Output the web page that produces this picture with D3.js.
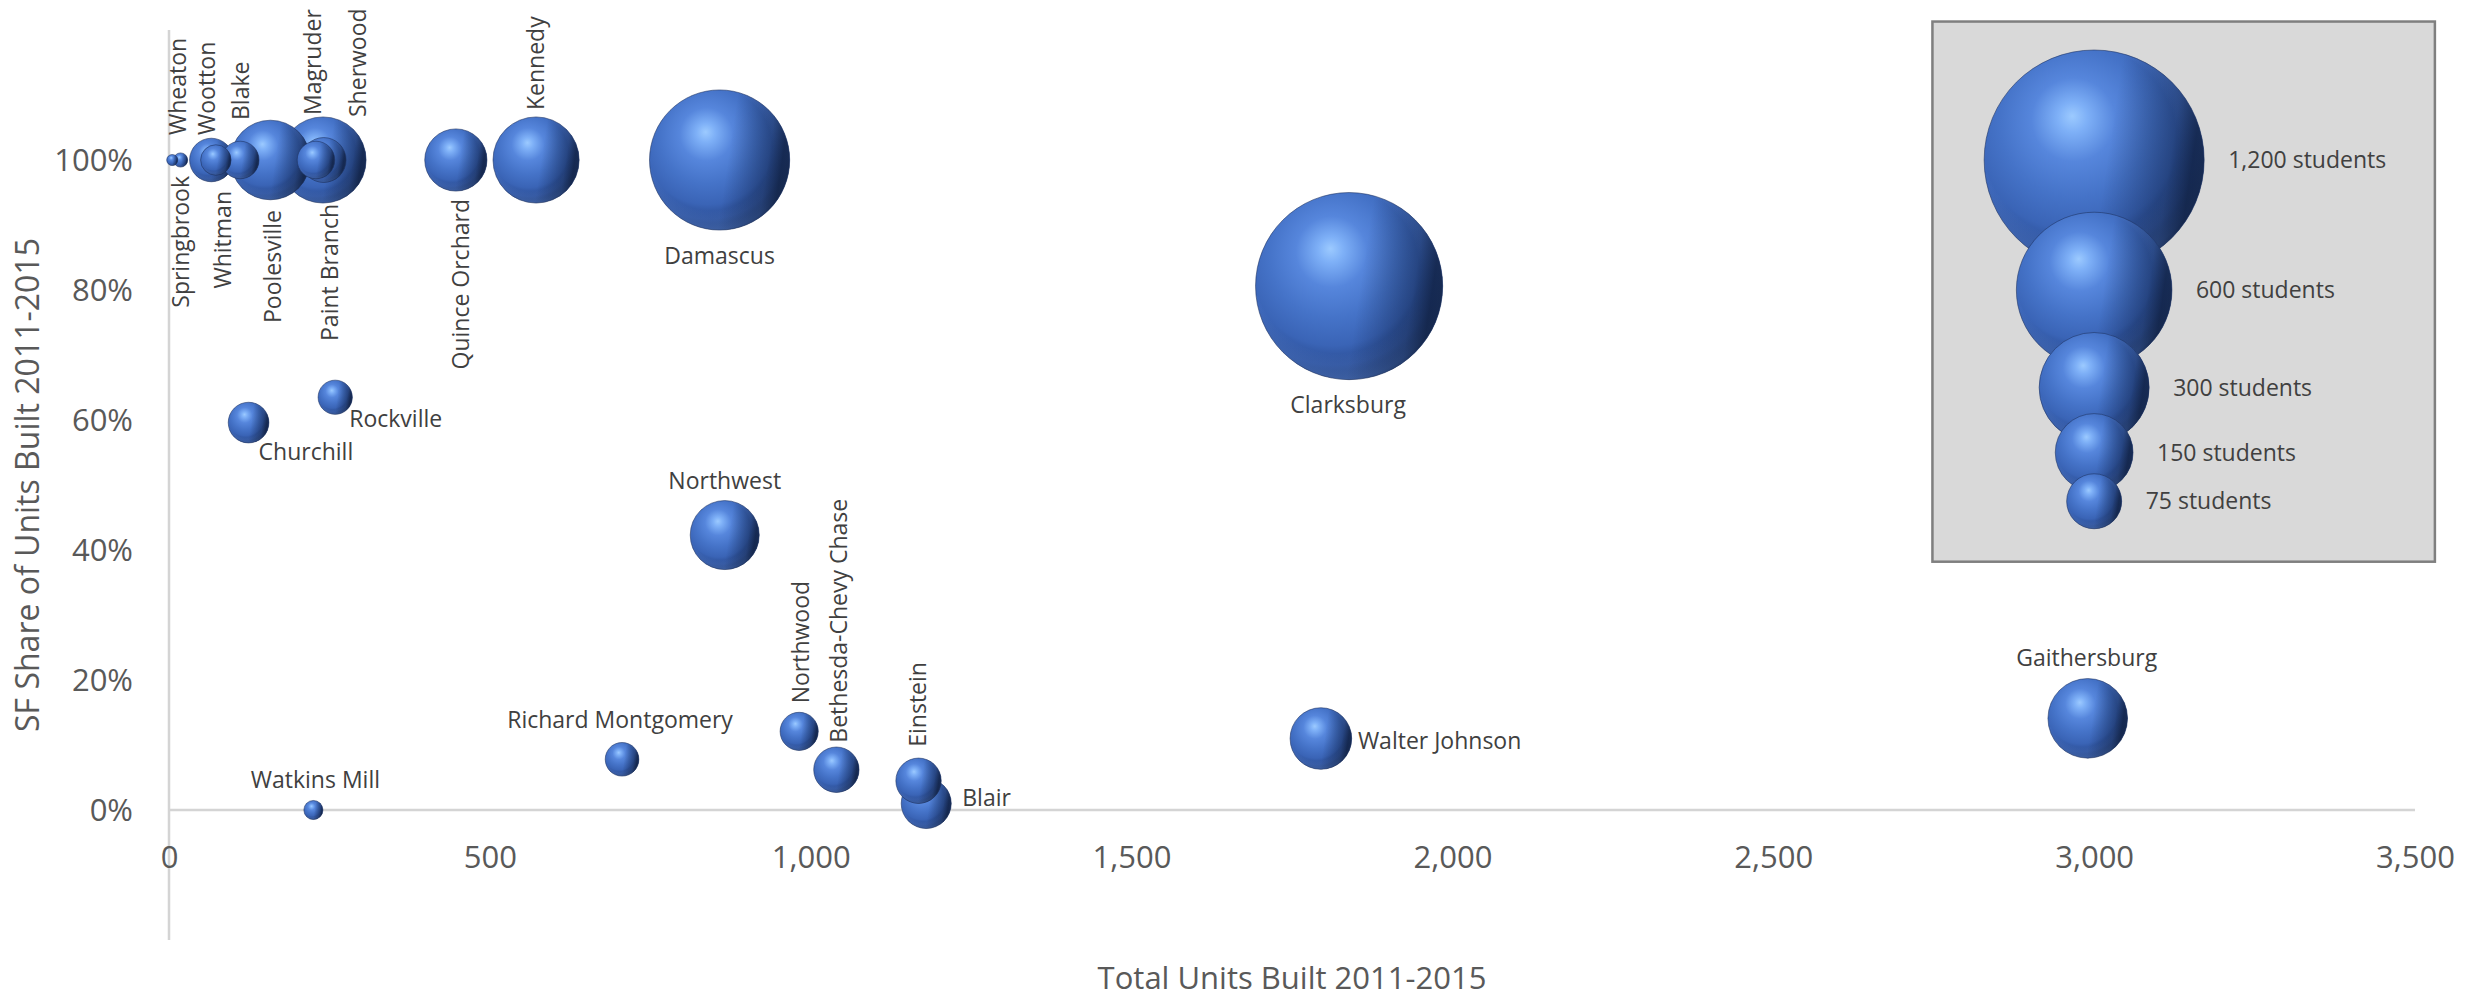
<!DOCTYPE html>
<html>
<head>
<meta charset="utf-8">
<script src="https://cdn.jsdelivr.net/npm/d3@7/dist/d3.min.js"></script>
<style>
  html, body { margin: 0; padding: 0; background: #ffffff; }
  svg { display: block; font-family: "Open Sans", "Noto Sans", sans-serif; }
</style>
</head>
<body>
<svg id="chart" width="2483" height="999"></svg>
<script>
// ---------------- DATA ----------------
const schools = ["Springbrook","Wheaton","Wootton","Whitman","Blake","Poolesville","Magruder","Paint Branch","Sherwood","Quince Orchard","Kennedy","Damascus","Clarksburg","Churchill","Rockville","Northwest","Richard Montgomery","Northwood","Bethesda-Chevy Chase","Einstein","Blair","Walter Johnson","Gaithersburg","Watkins Mill"];
const totalUnits = [5, 18, 66, 73, 111, 158, 229, 241, 240, 447, 572, 858, 1839, 124, 259, 866, 706, 982, 1040, 1168, 1180, 1795, 2990, 225];
const sfShare    = [1.00, 1.00, 1.00, 1.00, 1.00, 1.00, 1.00, 1.00, 1.00, 1.00, 1.00, 1.00, 0.806, 0.596, 0.635, 0.423, 0.078, 0.121, 0.062, 0.045, 0.010, 0.110, 0.141, 0.000];
const students   = [3, 5, 47, 23, 35, 157, 35, 50, 184, 96, 184, 487, 868, 41, 29, 118, 28, 36, 51, 51, 62, 94, 157, 9];

const legendStudents = [1200, 600, 300, 150, 75];
const legendUnits    = [3000, 3000, 3000, 3000, 3000];
const legendShare    = [1.00, 0.80, 0.65, 0.55, 0.475];
const legendLabels   = ["1,200 students", "600 students", "300 students", "150 students", "75 students"];

const xTickValues = [0, 500, 1000, 1500, 2000, 2500, 3000, 3500];
const yTickValues = [0, 0.2, 0.4, 0.6, 0.8, 1.0];

const xTitle = "Total Units Built 2011-2015";
const yTitle = "SF Share of Units Built 2011-2015";

// label placement (style): kind, pixel offset from bubble centre
const labelPlacement = [
  ["Springbrook","down",8,16],
  ["Wheaton","up",-4,-25],
  ["Wootton","up",-5,-25],
  ["Whitman","down",6,31],
  ["Blake","up",0,-40],
  ["Poolesville","down",2,50],
  ["Magruder","up",-4,-45],
  ["Paint Branch","down",5,44],
  ["Sherwood","up",34,-43],
  ["Quince Orchard","down",4,39],
  ["Kennedy","up",-1,-50],
  ["Damascus","mid",0,104],
  ["Clarksburg","mid",-1,127],
  ["Churchill","start",10,37],
  ["Rockville","start",14,30],
  ["Northwest","mid",0,-46],
  ["Richard Montgomery","mid",-2,-31],
  ["Northwood","up",1,-28],
  ["Bethesda-Chevy Chase","up",2,-27],
  ["Einstein","up",-2,-34],
  ["Blair","start",36,2],
  ["Walter Johnson","start",37,10],
  ["Gaithersburg","mid",-1,-52],
  ["Watkins Mill","mid",2,-22]
];

// ---------------- CHART ----------------
const svg = d3.select("#chart");
const plot = { left: 169, right: 2415, top: 30, bottom: 940 };

const x = d3.scaleLinear().domain([0, 3500]).range([plot.left, plot.right]);
const y = d3.scaleLinear().domain([-0.2, 1.2]).range([plot.bottom, plot.top]);
const r = d3.scaleSqrt().domain([0, 1200]).range([0, 110]);

// gradients for 3D sphere look
const defs = svg.append("defs");
const g1 = defs.append("radialGradient").attr("id", "sphere")
  .attr("cx", "0.42").attr("cy", "0.36").attr("r", "0.68")
  .attr("fx", "0.40").attr("fy", "0.30");
[
  [0.00, "#9ccaff"], [0.10, "#7eb0f7"], [0.28, "#5686dc"], [0.50, "#4573c8"],
  [0.70, "#3a64b6"], [0.84, "#2a4c92"], [0.94, "#172d5c"], [1.00, "#0a1630"]
].forEach(([o, c]) => g1.append("stop").attr("offset", o).attr("stop-color", c));

const g2 = defs.append("radialGradient").attr("id", "rim")
  .attr("cx", "0.45").attr("cy", "0.45").attr("r", "0.55")
  .attr("fx", "0.38").attr("fy", "0.30");
[
  [0.00, "#6f9cf0", 0.0], [0.80, "#6f9cf0", 0.0], [0.93, "#5d8be0", 0.35], [1.00, "#5d8be0", 0.55]
].forEach(([o, c, a]) => g2.append("stop").attr("offset", o).attr("stop-color", c).attr("stop-opacity", a));

const g3 = defs.append("linearGradient").attr("id", "shadeR")
  .attr("x1", "0").attr("y1", "0").attr("x2", "1").attr("y2", "0.15");
[
  [0.00, "#000a20", 0.0], [0.62, "#000a20", 0.0], [0.90, "#000a20", 0.35], [1.00, "#000a20", 0.65]
].forEach(([o, c, a]) => g3.append("stop").attr("offset", o).attr("stop-color", c).attr("stop-opacity", a));

function drawBubble(sel) {
  sel.append("circle").attr("r", d => d.r).attr("fill", "url(#sphere)");
  sel.append("circle").attr("r", d => d.r).attr("fill", "url(#rim)");
  sel.append("circle").attr("r", d => d.r).attr("fill", "url(#shadeR)")
    .attr("stroke", "#1b2f5c").attr("stroke-opacity", 0.55).attr("stroke-width", 1);
}

// legend box (in data space)
svg.append("rect")
  .attr("x", x(2748)).attr("y", y(1.213))
  .attr("width", x(3531) - x(2748)).attr("height", y(0.382) - y(1.213))
  .attr("fill", "#d9d9d9").attr("stroke", "#7f7f7f").attr("stroke-width", 2.5);

// axes lines
svg.append("line")
  .attr("x1", x(0)).attr("x2", x(0)).attr("y1", y(1.2)).attr("y2", y(-0.2))
  .attr("stroke", "#d4d4d4").attr("stroke-width", 2.5);
svg.append("line")
  .attr("x1", x(0)).attr("x2", x(3500)).attr("y1", y(0)).attr("y2", y(0))
  .attr("stroke", "#d4d4d4").attr("stroke-width", 2.5);

// y tick labels
const yAxis = d3.axisLeft(y).tickValues(yTickValues).tickFormat(d3.format(".0%")).tickSize(0).tickPadding(36);
const yg = svg.append("g").attr("transform", `translate(${x(0)},0)`).call(yAxis);
yg.select(".domain").remove();
yg.selectAll("text").attr("font-size", 31).attr("fill", "#595959")
  .attr("font-family", "'Open Sans', sans-serif").attr("dy", "0.35em");

// x tick labels
const xAxis = d3.axisBottom(x).tickValues(xTickValues).tickFormat(d3.format(",")).tickSize(0).tickPadding(0);
const xg = svg.append("g").attr("transform", `translate(0,${y(0)})`).call(xAxis);
xg.select(".domain").remove();
xg.selectAll("text").attr("font-size", 31).attr("fill", "#595959")
  .attr("font-family", "'Open Sans', sans-serif").attr("y", 47).attr("dy", "0.35em");

// axis titles
svg.append("text")
  .attr("x", (plot.left + plot.right) / 2).attr("y", 989)
  .attr("text-anchor", "middle").attr("font-size", 31).attr("fill", "#595959")
  .text(xTitle);
svg.append("text")
  .attr("transform", `translate(39,${(plot.top + plot.bottom) / 2}) rotate(-90)`)
  .attr("text-anchor", "middle").attr("font-size", 32).attr("fill", "#595959")
  .text(yTitle);

// data bubbles
const data = schools.map((n, i) => ({
  name: n, cx: x(totalUnits[i]), cy: y(sfShare[i]), r: r(students[i])
}));
const sorted = data.slice().sort((a, b) => b.r - a.r);
const bubbles = svg.append("g").selectAll("g").data(sorted).join("g")
  .attr("transform", d => `translate(${d.cx},${d.cy})`);
drawBubble(bubbles);

// legend bubbles
const legendData = legendStudents.map((s, i) => ({
  label: legendLabels[i], cx: x(legendUnits[i]), cy: y(legendShare[i]), r: r(s)
}));
const lg = svg.append("g").selectAll("g").data(legendData).join("g")
  .attr("transform", d => `translate(${d.cx},${d.cy})`);
drawBubble(lg);
svg.append("g").selectAll("text").data(legendData).join("text")
  .attr("x", d => d.cx + d.r + 24).attr("y", d => d.cy).attr("dy", "0.35em")
  .attr("font-size", 23).attr("fill", "#404040").text(d => d.label);

// data labels
const byName = new Map(data.map(d => [d.name, d]));
const lab = svg.append("g").attr("font-size", 23).attr("fill", "#404040");
labelPlacement.forEach(([name, kind, dx, dy]) => {
  const d = byName.get(name);
  const px = d.cx + dx, py = d.cy + dy;
  const t = lab.append("text").text(name);
  if (kind === "up" || kind === "down") {
    t.attr("transform", `translate(${px},${py}) rotate(-90)`)
     .attr("text-anchor", kind === "up" ? "start" : "end")
     .attr("dominant-baseline", "central");
  } else {
    t.attr("x", px).attr("y", py).attr("text-anchor", kind === "mid" ? "middle" : "start");
  }
});
</script>
</body>
</html>
